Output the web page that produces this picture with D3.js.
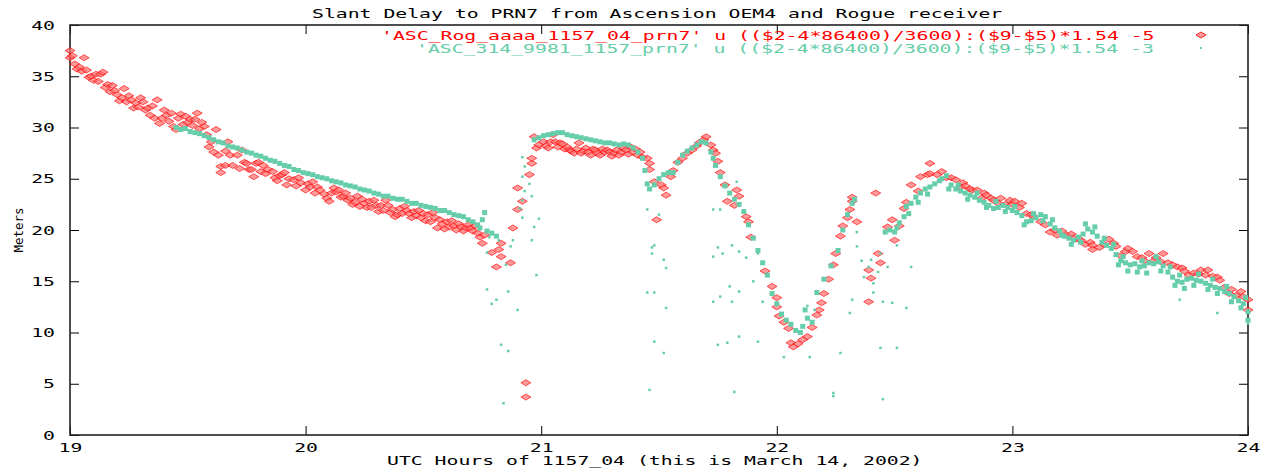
<!DOCTYPE html>
<html>
<head>
<meta charset="utf-8">
<script src="https://cdn.jsdelivr.net/npm/d3@7"></script>
<style>
  html, body { margin: 0; padding: 0; background: #fff; }
  svg { display: block; }
  text { font-family: "DejaVu Sans Mono", monospace; font-size: 12.5px; fill: #000; }
</style>
</head>
<body>
<svg id="graph" width="1266" height="470"></svg>
<script>
// slant delay chart, gnuplot look
const title = 'Slant Delay to PRN7 from Ascension OEM4 and Rogue receiver';
const xTitle = 'UTC Hours of 1157_04 (this is March 14, 2002)';
const yTitle = 'Meters';
const legendRed = "'ASC_Rog_aaaa_1157_04_prn7' u (($2-4*86400)/3600):($9-$5)*1.54 -5";
const legendGreen = "'ASC_314_9981_1157_prn7' u (($2-4*86400)/3600):($9-$5)*1.54 -3";
const hourTicks = [19, 20, 21, 22, 23, 24];
const meterTicks = [0, 5, 10, 15, 20, 25, 30, 35, 40];

// Rogue receiver (red diamonds) [hour, meters]
const rogue = [
  [19.00,37.5],[19.00,36.8],[19.01,37.0],[19.02,36.2],[19.03,35.7],[19.04,35.9],[19.05,35.5],[19.06,36.8],
  [19.07,35.6],[19.08,34.9],[19.09,35.0],[19.10,34.6],[19.11,35.2],[19.12,34.5],[19.13,35.2],[19.14,35.4],
  [19.15,33.9],[19.16,34.2],[19.17,33.5],[19.18,34.1],[19.19,33.6],[19.20,33.2],[19.21,32.6],[19.22,32.9],
  [19.23,33.8],[19.24,32.5],[19.25,33.1],[19.26,32.7],[19.27,31.9],[19.28,32.4],[19.29,32.0],[19.30,32.9],
  [19.31,32.5],[19.32,31.7],[19.33,31.9],[19.34,31.2],[19.35,32.1],[19.36,30.9],[19.37,32.7],[19.38,30.4],
  [19.39,30.9],[19.40,31.7],[19.41,31.2],[19.42,30.6],[19.43,31.4],[19.44,30.1],[19.45,29.8],[19.46,30.9],
  [19.47,31.3],[19.48,30.3],[19.49,31.1],[19.50,30.5],[19.51,30.8],[19.52,30.2],[19.53,30.8],[19.54,31.4],
  [19.55,29.9],[19.56,30.5],[19.57,30.1],[19.58,29.3],[19.59,28.1],[19.60,28.6],[19.61,27.6],[19.62,29.8],
  [19.63,27.3],[19.64,26.2],[19.64,25.6],[19.66,27.7],[19.66,26.3],[19.67,28.6],[19.68,27.3],[19.69,26.3],
  [19.71,27.3],[19.72,26.0],[19.73,27.8],[19.74,26.6],[19.75,26.5],[19.76,25.9],[19.77,25.9],[19.78,25.2],
  [19.79,26.5],[19.80,26.6],[19.81,25.7],[19.82,26.3],[19.83,25.5],[19.84,25.9],[19.86,25.7],[19.87,25.1],
  [19.88,24.8],[19.89,25.3],[19.90,25.4],[19.91,25.6],[19.92,24.4],[19.93,25.0],[19.95,24.9],[19.96,24.3],
  [19.97,25.1],[19.98,24.6],[20.00,23.9],[20.01,24.5],[20.02,24.2],[20.03,24.7],[20.04,23.6],[20.05,24.2],
  [20.06,23.9],[20.08,23.5],[20.09,23.1],[20.10,22.8],[20.11,23.6],[20.12,24.1],[20.13,23.7],[20.14,23.9],
  [20.15,23.2],[20.16,23.3],[20.17,23.6],[20.18,22.9],[20.19,23.1],[20.20,22.5],[20.21,22.7],[20.22,23.3],
  [20.23,22.3],[20.24,23.0],[20.25,22.6],[20.26,22.2],[20.27,22.8],[20.28,22.2],[20.29,22.9],[20.30,22.4],
  [20.31,21.8],[20.32,22.4],[20.33,21.9],[20.34,22.9],[20.35,22.4],[20.36,21.7],[20.37,22.0],[20.38,21.3],
  [20.39,21.5],[20.40,22.1],[20.41,21.6],[20.42,22.3],[20.43,21.9],[20.44,21.6],[20.45,21.2],[20.46,21.8],
  [20.47,21.4],[20.48,21.9],[20.49,21.2],[20.50,21.6],[20.51,20.9],[20.52,21.5],[20.53,20.8],[20.54,21.7],
  [20.55,21.2],[20.56,20.2],[20.57,21.0],[20.58,20.6],[20.59,20.1],[20.60,20.8],[20.61,20.3],[20.62,20.9],
  [20.63,20.4],[20.64,20.0],[20.65,20.6],[20.66,20.3],[20.67,19.9],[20.68,20.2],[20.69,20.5],[20.70,20.2],
  [20.71,19.9],[20.72,20.4],[20.73,19.7],[20.74,19.3],[20.75,18.7],[20.76,19.5],
  [20.79,17.8],[20.81,16.4],[20.82,18.1],[20.83,18.7],[20.83,17.4],[20.87,16.8],[20.88,20.2],[20.90,22.0],
  [20.90,24.1],[20.92,22.8],[20.935,5.1],[20.935,3.7],[20.95,25.4],[20.96,26.5],[20.96,27.0],[20.97,29.1],
  [20.98,28.0],[20.99,28.3],[21.01,28.6],[21.02,28.2],[21.03,28.0],[21.04,28.6],[21.05,29.3],[21.06,28.6],
  [21.07,28.1],[21.08,28.5],[21.09,28.4],[21.10,27.9],[21.11,28.1],[21.12,27.8],[21.13,27.7],[21.14,27.5],
  [21.15,27.9],[21.16,28.5],[21.17,27.5],[21.18,27.7],[21.19,28.0],[21.20,27.6],[21.21,27.3],[21.22,27.9],
  [21.23,27.8],[21.24,27.5],[21.25,27.3],[21.26,27.9],[21.27,27.6],[21.28,27.8],[21.29,27.6],[21.30,27.2],
  [21.31,27.5],[21.32,27.8],[21.33,27.3],[21.34,27.6],[21.35,28.0],[21.36,27.8],[21.37,27.4],[21.38,28.1],
  [21.39,27.6],[21.40,27.9],[21.41,27.3],[21.42,27.6],[21.43,27.1],[21.45,27.0],[21.46,26.5],[21.46,25.9],
  [21.48,24.7],[21.49,21.0],[21.51,24.4],[21.52,24.1],[21.53,23.4],[21.55,25.2],[21.56,25.8],[21.58,26.6],
  [21.60,27.0],[21.62,27.5],[21.64,27.8],[21.66,28.2],[21.67,28.5],[21.69,28.8],[21.70,29.1],[21.72,28.3],
  [21.73,27.8],[21.74,27.5],[21.75,26.7],[21.76,25.6],[21.78,24.4],[21.79,22.8],[21.82,22.4],[21.83,23.9],
  [21.84,23.3],[21.87,21.3],[21.88,20.8],[21.89,19.3],[21.95,16.0],[21.98,14.5],[22.00,12.5],[22.00,13.4],
  [22.01,11.6],[22.03,11.0],[22.05,10.4],[22.06,9.0],[22.07,8.6],[22.09,8.9],[22.11,9.3],[22.13,9.6],
  [22.15,10.5],[22.17,11.7],[22.18,12.2],[22.19,12.9],[22.20,13.8],[22.22,15.2],[22.24,16.6],[22.25,17.7],
  [22.27,19.4],[22.28,20.4],[22.30,21.2],[22.31,22.0],[22.32,22.8],[22.32,23.2],[22.34,20.8],[22.39,16.1],
  [22.40,15.3],[22.39,13.0],[22.42,23.6],[22.43,17.7],[22.44,16.8],[22.47,20.3],[22.49,21.0],[22.50,19.0],
  [22.52,20.4],[22.54,22.1],[22.55,22.7],[22.57,24.4],[22.60,23.8],[22.61,25.2],[22.64,25.4],[22.65,26.5],
  [22.65,25.5],[22.68,25.4],[22.70,25.7],[22.72,25.1],[22.74,25.1],[22.76,24.9],[22.78,24.2],[22.79,24.6],
  [22.80,24.3],[22.82,24.0],[22.83,23.9],[22.85,23.9],[22.87,23.1],[22.88,23.6],[22.89,23.4],[22.91,23.1],
  [22.92,22.9],[22.94,22.6],[22.95,23.1],[22.97,22.5],[22.99,22.9],[23.00,22.5],[23.01,22.8],[23.03,22.2],
  [23.04,22.6],[23.06,21.6],[23.08,21.5],[23.09,21.3],[23.12,20.8],[23.14,20.5],[23.16,19.8],[23.18,20.0],
  [23.19,19.5],[23.21,19.9],[23.23,19.5],[23.25,19.6],[23.26,19.2],[23.28,19.1],[23.29,19.0],[23.31,18.6],
  [23.33,18.8],[23.34,18.5],[23.34,18.1],[23.37,18.3],[23.39,18.6],[23.41,19.1],[23.43,18.7],[23.44,18.4],
  [23.46,17.5],[23.48,17.9],[23.49,18.2],[23.51,17.9],[23.53,17.4],[23.55,17.3],[23.56,17.0],[23.58,17.7],
  [23.60,17.0],[23.61,17.3],[23.63,16.9],[23.64,17.7],[23.66,16.8],[23.68,16.6],[23.70,16.4],[23.72,16.3],
  [23.73,16.0],[23.75,15.6],[23.77,15.8],[23.79,15.7],[23.80,16.1],[23.82,15.6],[23.83,16.1],[23.85,15.5],
  [23.87,15.4],[23.88,15.1],[23.90,14.4],[23.92,13.8],[23.93,14.2],[23.95,13.6],[23.97,14.0],[23.98,13.5],
  [24.00,13.2],[24.00,12.2]
];

// OEM4 receiver (green dots), main trace [hour, meters]
const oem4Trace = [
  [19.45,30.0],[19.47,29.8],[19.49,29.9],[19.51,29.6],[19.53,29.5],[19.55,29.4],[19.57,29.2],[19.59,29.0],
  [19.61,28.8],[19.63,28.6],[19.65,28.5],[19.67,28.2],[19.69,28.1],[19.71,28.0],[19.73,27.8],[19.75,27.6],
  [19.77,27.5],[19.79,27.3],[19.81,27.2],[19.83,27.0],[19.85,26.8],[19.87,26.7],[19.89,26.5],[19.91,26.3],
  [19.93,26.2],[19.95,25.9],[19.97,25.8],[19.99,25.6],[20.01,25.5],[20.03,25.4],[20.05,25.2],[20.07,25.1],
  [20.09,25.0],[20.11,24.8],[20.13,24.7],[20.15,24.6],[20.17,24.4],[20.19,24.3],[20.21,24.2],[20.23,24.0],
  [20.25,23.9],[20.27,23.8],[20.29,23.6],[20.31,23.5],[20.33,23.3],[20.35,23.3],[20.37,23.1],[20.39,23.0],
  [20.41,23.0],[20.43,22.8],[20.45,22.6],[20.47,22.6],[20.49,22.4],[20.51,22.3],[20.53,22.2],[20.55,22.1],
  [20.57,21.9],[20.59,21.9],[20.61,21.7],[20.63,21.5],[20.65,21.4],[20.67,21.3],[20.69,21.0],[20.71,20.8],
  [20.73,20.5],[20.74,20.2],[20.75,21.0],[20.76,21.7],[20.77,19.9],[20.79,19.7],[20.81,19.4],
  [20.97,28.8],[20.99,29.0],[21.01,29.2],[21.03,29.3],[21.05,29.4],[21.07,29.5],[21.09,29.5],[21.11,29.3],
  [21.13,29.2],[21.15,29.1],[21.17,29.0],[21.19,28.9],[21.21,28.8],[21.23,28.7],[21.25,28.6],[21.27,28.5],
  [21.29,28.5],[21.31,28.4],[21.33,28.3],[21.35,28.4],[21.37,28.3],[21.39,28.0],[21.41,27.6],[21.43,27.0],
  [21.44,25.8],[21.45,24.5],[21.46,24.0],[21.48,24.4],[21.50,25.0],[21.52,25.4],[21.54,25.6],[21.56,25.6],
  [21.58,26.6],[21.60,27.3],[21.62,27.7],[21.64,28.0],[21.66,28.3],[21.68,28.6],[21.70,28.5],[21.72,27.6],
  [21.73,27.0],[21.74,26.3],[21.76,25.2],[21.78,24.3],[21.80,23.6],[21.82,23.0],[21.84,22.5],[21.86,21.8],
  [21.88,20.5],[21.90,19.2],[21.92,18.0],[21.94,16.8],[21.96,15.6],[21.98,13.8],[22.00,12.8],[22.02,11.8],
  [22.04,11.2],[22.06,10.8],[22.08,10.2],[22.10,10.0],[22.11,10.6],[22.12,12.2],[22.13,11.4],[22.15,11.0],
  [22.17,13.9],[22.20,15.2],[22.23,16.5],[22.26,18.0],[22.28,20.0],[22.30,21.5],[22.32,22.6],[22.33,23.0],
  [22.46,19.8],[22.48,20.0],[22.50,19.8],[22.52,20.7],[22.54,21.3],[22.55,22.3],[22.57,22.6],[22.59,23.2],
  [22.61,23.6],[22.63,24.0],[22.65,24.2],[22.67,24.5],[22.69,24.8],
  [22.70,25.0],[22.72,25.3],[22.74,24.4],[22.76,24.0],[22.78,23.8],[22.80,23.6],[22.82,23.4],[22.84,23.2],
  [22.86,22.9],[22.88,22.7],[22.90,22.4],[22.92,22.1],[22.94,22.2],[22.96,22.4],[22.98,22.2],[23.00,21.9],
  [23.02,21.7],[23.04,21.4],[23.06,20.8],[23.08,20.9],[23.10,21.2],[23.12,21.5],[23.14,21.3],[23.16,20.6],
  [23.18,20.2],[23.20,19.9],[23.22,19.4],[23.24,19.2],[23.26,19.0],[23.28,19.3],[23.30,19.6],[23.32,20.1],
  [23.34,19.8],[23.36,19.4],[23.38,18.8],[23.40,18.5],[23.42,18.2],[23.44,17.6],[23.46,17.0],[23.48,16.8],
  [23.50,16.6],[23.52,16.7],[23.54,16.4],[23.56,16.5],[23.58,16.8],[23.60,16.7],[23.62,16.9],[23.64,16.5],
  [23.66,15.9],[23.68,15.4],[23.70,15.0],[23.72,14.9],[23.74,15.2],[23.76,15.3],[23.78,15.1],[23.80,15.0],
  [23.82,14.8],[23.84,14.6],[23.86,14.4],[23.88,14.3],[23.90,14.0],[23.92,13.8],[23.94,13.5],[23.96,13.1],
  [23.98,12.8],[24.00,12.0]
];

// OEM4 noisy spread around the trace, late hours
const oem4Spread = [
  [22.73,24.0],[22.77,24.4],[22.81,23.0],[22.85,23.6],[22.89,22.2],[22.93,22.8],[22.97,21.8],[23.01,22.3],
  [23.05,20.5],[23.09,21.6],[23.13,20.9],[23.17,21.0],[23.21,19.5],[23.25,18.6],[23.29,18.8],[23.31,20.6],
  [23.35,20.3],[23.39,19.2],[23.43,18.6],[23.45,16.6],[23.47,17.4],[23.49,16.0],[23.53,15.9],[23.55,17.0],
  [23.57,15.8],[23.61,17.4],[23.63,16.0],[23.67,16.4],[23.69,14.6],[23.71,15.6],[23.73,14.3],[23.77,14.6],
  [23.79,15.7],[23.83,14.2],[23.85,15.2],[23.87,13.8],[23.91,14.5],[23.93,13.0],[23.97,12.4],[23.99,13.4],
  [24.00,11.2],[22.51,20.2],[22.56,21.6],[22.60,22.7],[22.64,23.5]
];

// OEM4 scattered outliers
const oem4Scatter = [
  [20.77,14.2],[20.81,13.2],[20.90,12.2],[20.85,16.6],[20.92,27.1],[20.93,26.2],[20.92,25.2],[20.92,22.9],
  [20.91,22.1],[20.99,21.1],[20.97,20.3],[20.96,19.0],[20.98,15.6],[20.88,19.0],[20.87,18.4],[20.92,21.2],
  [20.77,17.8],[20.78,19.3],[20.82,19.0],[20.84,3.1],[20.83,8.8],[20.86,8.2],[20.79,12.8],[20.86,14.0],
  [20.93,23.8],[20.95,24.5],[20.96,23.3],[21.45,22.0],[21.48,18.5],[21.47,18.3],[21.52,17.1],[21.53,16.3],
  [21.45,13.9],[21.48,13.9],[21.53,12.4],[21.50,21.5],[21.46,4.4],[21.48,9.1],[21.52,8.0],[21.47,17.7],
  [21.73,22.0],[21.76,22.0],[21.75,18.3],[21.77,17.7],[21.81,18.5],[21.73,17.4],[21.80,14.5],[21.76,13.5],
  [21.81,13.0],[21.73,13.0],[21.83,24.7],[21.84,17.9],[21.87,17.3],[21.92,17.7],[21.84,14.0],[21.75,8.8],
  [21.79,9.0],[21.84,9.6],[21.92,9.1],[21.82,4.2],[22.03,7.6],[22.14,7.6],[22.27,8.0],[22.31,11.9],
  [22.32,13.2],[22.34,19.8],[22.34,18.4],[22.40,17.1],[22.39,16.4],[22.37,15.4],[22.41,14.8],[22.41,13.9],
  [22.45,13.0],[22.49,12.9],[22.44,17.7],[22.47,16.4],[22.51,18.5],[22.57,16.4],[22.55,12.4],[22.44,8.5],
  [22.51,8.5],[22.24,4.1],[22.24,3.8],[22.45,3.5],[23.71,13.2],[23.87,11.9],[24.00,10.9],[21.90,15.0],
  [21.94,13.0],[22.13,12.6],[22.16,12.2],[22.36,17.0],[22.43,15.9]
];

const svg = d3.select('#graph');
const x = d3.scaleLinear().domain([19, 24]).range([70, 1248]);
const y = d3.scaleLinear().domain([0, 40]).range([435, 25]);
const charW = 11.9;
const red = '#ff0000';
const pink = '#ff6f6f';
const green = '#66cdaa';

function stretch(sel) {
  sel.attr('textLength', function() { return this.textContent.length * charW; })
    .attr('lengthAdjust', 'spacingAndGlyphs');
}

// axes, ticks pointing inward
const gx = svg.append('g').attr('transform', 'translate(0,435)')
  .call(d3.axisBottom(x).tickValues(hourTicks).tickFormat(d3.format('d')).tickSizeInner(-9).tickSizeOuter(0).tickPadding(8));
const gxTop = svg.append('g').attr('transform', 'translate(0,25)')
  .call(d3.axisTop(x).tickValues(hourTicks).tickFormat('').tickSizeInner(-9).tickSizeOuter(0));
const gy = svg.append('g').attr('transform', 'translate(70,0)')
  .call(d3.axisLeft(y).tickValues(meterTicks).tickSizeInner(-9).tickSizeOuter(0).tickPadding(15));
const gyRight = svg.append('g').attr('transform', 'translate(1248,0)')
  .call(d3.axisRight(y).tickValues(meterTicks).tickFormat('').tickSizeInner(-9).tickSizeOuter(0));

[gx, gxTop, gy, gyRight].forEach(g => {
  g.select('.domain').remove();
  g.selectAll('line').attr('stroke', '#000').attr('stroke-width', 1);
  g.selectAll('text').attr('font-family', null).attr('font-size', null).attr('fill', '#000').call(stretch);
});
gx.selectAll('text').attr('dy', '0.71em');

svg.append('rect')
  .attr('x', x(19)).attr('y', y(40))
  .attr('width', x(24) - x(19)).attr('height', y(0) - y(40))
  .attr('fill', 'none').attr('stroke', '#222').attr('stroke-width', 1.6);

// red diamonds (first data file, drawn first)
const diamond = 'M0,-3L5,0L0,3L-5,0Z';
svg.append('g').selectAll('path').data(rogue).join('path')
  .attr('d', diamond)
  .attr('transform', d => `translate(${x(d[0])},${y(d[1])})`)
  .attr('fill', pink).attr('fill-opacity', 0.7)
  .attr('stroke', red).attr('stroke-width', 0.8).attr('stroke-opacity', 0.8);

// green dots on top
const dots = svg.append('g');
dots.selectAll('rect.trace').data(oem4Trace.concat(oem4Spread)).join('rect')
  .attr('class', 'trace')
  .attr('x', d => x(d[0]) - 2.5).attr('y', d => y(d[1]) - 2.5)
  .attr('width', 5).attr('height', 5)
  .attr('fill', green);
dots.selectAll('rect.scatter').data(oem4Scatter).join('rect')
  .attr('class', 'scatter')
  .attr('x', d => x(d[0]) - 1.25).attr('y', d => y(d[1]) - 1.25)
  .attr('width', 2.5).attr('height', 2.5)
  .attr('fill', green);

// title and labels
svg.append('text').attr('x', 312).attr('y', 18).text(title).call(stretch);
svg.append('text').attr('x', 387).attr('y', 465).text(xTitle).call(stretch);
svg.append('text')
  .attr('transform', 'translate(23,230) rotate(-90)')
  .attr('text-anchor', 'middle')
  .text(yTitle);

// key
svg.append('text').attr('x', 381).attr('y', 40).style('fill', red).text(legendRed).call(stretch);
svg.append('text').attr('x', 416).attr('y', 53).style('fill', green).text(legendGreen).call(stretch);
svg.append('path').attr('d', diamond).attr('transform', 'translate(1201,35)')
  .attr('fill', pink).attr('fill-opacity', 0.7).attr('stroke', red).attr('stroke-width', 0.8);
svg.append('rect').attr('x', 1200).attr('y', 47).attr('width', 2).attr('height', 2).attr('fill', green);
</script>
</body>
</html>
